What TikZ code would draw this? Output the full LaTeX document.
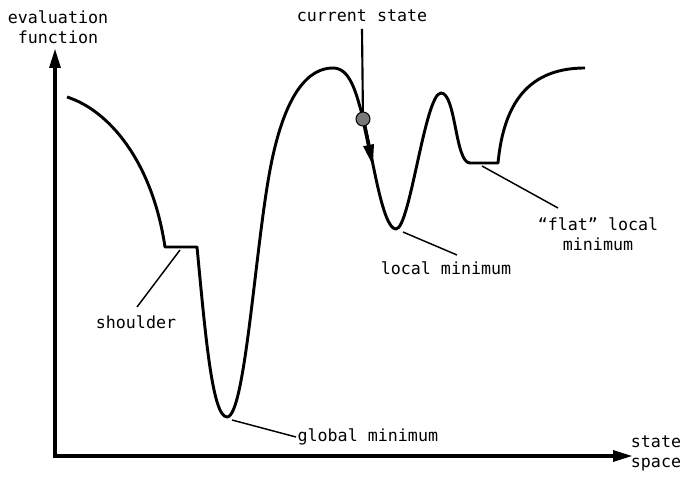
\documentclass[tikz,border=0pt]{standalone}
\usepackage{fontspec}
\setmonofont{DejaVu Sans Mono}
\usepackage{tikz}
\usetikzlibrary{arrows.meta,positioning}
\definecolor{stategray}{RGB}{120,120,120}

\begin{document}
\begin{tikzpicture}[
    x=0.75pt, y=-0.75pt,
    axis/.style={line width=3pt, -{Triangle[length=15pt,width=8pt]}},
    curve/.style={line width=2.2pt, line join=round},
    leader/.style={line width=1.1pt},
    lab/.style={font=\ttfamily\fontsize{12.5}{15}\selectfont, inner sep=1pt}
  ]
  \useasboundingbox (0,0) rectangle (689,477);

  % axes
  \coordinate (origin) at (55,456);
  \coordinate (ytip) at (55,48);
  \coordinate (xtip) at (633,456);
  \draw[axis] (origin) -- (ytip);
  \draw[axis] ([xshift=-1.5pt]origin) -- (xtip);
  \node[lab, align=center] (ylab) at (58,27) {evaluation\\function};
  \node[lab, align=left] (xlab) at (656,453) {state\\space};

  % landscape
  \draw[curve] (67,97) .. controls (108,110) and (152,160) .. (165,247)
    -- (197,247)
    .. controls (205,330) and (212,417) .. (227,417)
    .. controls (245,417) and (255,250) .. (270,170)
    .. controls (285,90) and (310,68) .. (333,68)
    .. controls (350,68) and (356,92) .. (363,118)
    .. controls (372,152) and (382,229) .. (396,229)
    .. controls (410,229) and (425,93) .. (441,93)
    .. controls (456,93) and (455,163) .. (470,163)
    -- (498,163)
    .. controls (503,112) and (522,68) .. (585,68);

  % points on the landscape
  \coordinate (shoulder) at (180,250);
  \coordinate (globalmin) at (232,420);
  \coordinate (localmin) at (403,232);
  \coordinate (flatmin) at (482,166);
  \coordinate (current) at (363,119);
  \coordinate (downhill) at (373,166);

  % labels
  \node[lab] (shoulderlab) at (136,322) {shoulder};
  \node[lab, anchor=west] (globallab) at (296,437) {global minimum};
  \node[lab] (locallab) at (446,268) {local minimum};
  \node[lab, align=center] (flatlab) at (598,234) {“flat” local\\minimum};
  \node[lab] (currentlab) at (362,16) {current state};

  % leader lines
  \draw[leader] (shoulder) -- (137,307);
  \draw[leader] (globalmin) -- (globallab.west);
  \draw[leader] (localmin) -- (457,255);
  \draw[leader] (flatmin) -- (558,208);

  % current state
  \draw[line width=1.6pt] ([yshift=-4pt]currentlab.south) -- (current);
  \draw[line width=2.6pt, -{Triangle[length=16pt,width=7.5pt]}] (current) -- (downhill);
  \node[circle, draw=black, line width=0.8pt, fill=stategray, minimum size=10.5pt, inner sep=0pt] (statedot) at (current) {};
\end{tikzpicture}
\end{document}
